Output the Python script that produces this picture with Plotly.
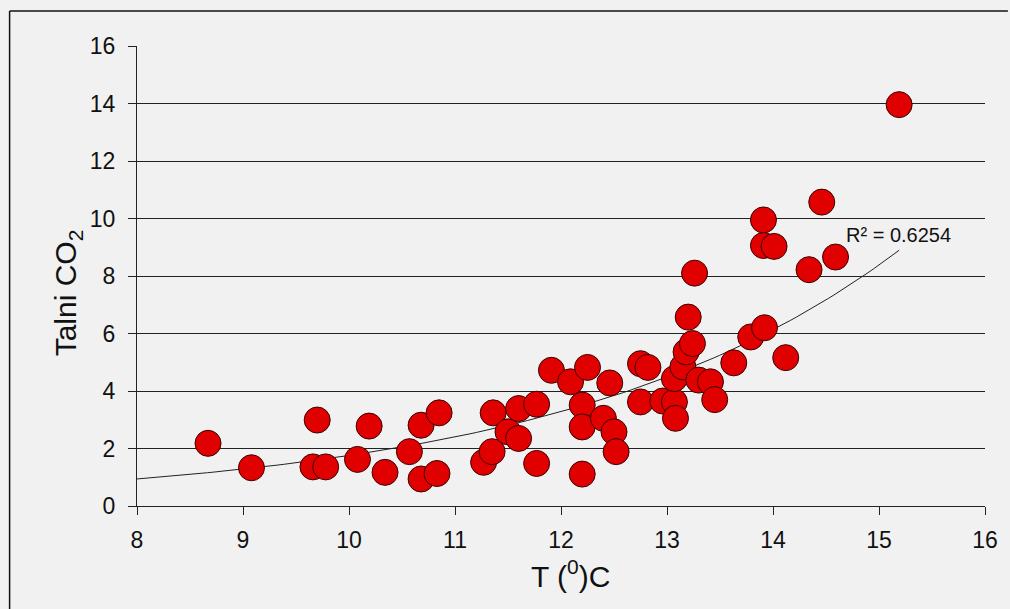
import numpy as np
import plotly.graph_objects as go

temperature = [8.67, 9.08, 9.66, 9.70, 9.78, 10.08, 10.19, 10.34, 10.57, 10.68, 10.68, 10.83, 10.85,
               11.27, 11.35, 11.36, 11.50, 11.60, 11.60, 11.77, 11.77, 11.91, 12.09, 12.20, 12.20,
               12.20, 12.25, 12.40, 12.46, 12.50, 12.52, 12.75, 12.82, 12.75, 12.96, 13.07, 13.08,
               13.07, 13.15, 13.18, 13.24, 13.20, 13.26, 13.30, 13.41, 13.45, 13.63, 13.79, 13.92,
               13.91, 13.91, 14.01, 14.12, 14.34, 14.46, 14.59, 15.19]
co2 = [2.18, 1.33, 1.36, 2.99, 1.36, 1.62, 2.78, 1.17, 1.89, 2.81, 0.94, 1.13, 3.24,
       1.52, 1.89, 3.24, 2.58, 3.39, 2.35, 3.54, 1.48, 4.72, 4.32, 3.51, 2.75,
       1.11, 4.82, 3.05, 4.28, 2.58, 1.89, 4.95, 4.82, 3.62, 3.65, 3.62, 3.05,
       4.43, 4.84, 5.36, 5.65, 6.57, 8.10, 4.38, 4.32, 3.70, 4.98, 5.88, 6.20,
       9.95, 9.06, 9.03, 5.16, 8.22, 10.57, 8.66, 13.96]
x_ticks = [8, 9, 10, 11, 12, 13, 14, 15, 16]
y_ticks = [0, 2, 4, 6, 8, 10, 12, 14, 16]
x_title = "T (<sup>0</sup>)C"
y_title = "Talni CO<sub>2</sub>"
r2_label = "R² = 0.6254"
# exponential trendline y = a*exp(b*x), coefficients
trend_a = 0.0772
trend_b = 0.3125
trend_range = [8, 15.19]

trend_x = np.linspace(trend_range[0], trend_range[1], 120)
trend_y = trend_a * np.exp(trend_b * trend_x)

fig = go.Figure()
fig.add_trace(go.Scatter(x=trend_x, y=trend_y, mode="lines",
                         line=dict(color="#222222", width=1), hoverinfo="skip"))
fig.add_trace(go.Scatter(x=temperature, y=co2, mode="markers",
                         marker=dict(size=26, color="#e00000",
                                     line=dict(color="#3a0000", width=1))))

fig.add_annotation(x=15.18, y=9.44, text=r2_label, showarrow=False,
                   font=dict(size=20, color="#111111", family="Liberation Sans, Arial"))

L, R, T, B = 137, 21, 46, 103
W, H = 1010, 609
pw, ph = W - L - R, H - T - B
px = lambda p: (p - L) / pw
py = lambda p: (H - B - p) / ph

fig.add_annotation(xref="paper", yref="paper", x=px(573), y=py(574), text=x_title,
                   showarrow=False, xanchor="center", yanchor="middle",
                   font=dict(size=30, color="#111111", family="Liberation Sans, Arial"))
fig.add_annotation(xref="paper", yref="paper", x=px(67), y=py(293), text=y_title,
                   showarrow=False, textangle=-90, xanchor="center", yanchor="middle",
                   font=dict(size=30, color="#111111", family="Liberation Sans, Arial"))

fig.add_shape(type="line", xref="paper", yref="paper", x0=px(9), x1=px(9), y0=py(612), y1=py(11),
              line=dict(color="#111111", width=1.5))
fig.add_shape(type="line", xref="paper", yref="paper", x0=px(9), x1=px(1012), y0=py(11), y1=py(11),
              line=dict(color="#111111", width=1.5))

font = dict(family="Liberation Sans, Arial", color="#111111")
fig.update_layout(
    width=W, height=H,
    margin=dict(l=L, r=R, t=T, b=B),
    paper_bgcolor="#f1f1f1", plot_bgcolor="#f1f1f1",
    showlegend=False,
    font=font,
    xaxis=dict(range=[8, 16], tickvals=x_ticks, ticks="outside", ticklen=8, tickcolor="#222222",
               showline=True, linecolor="#222222", linewidth=1, showgrid=False, zeroline=False,
               tickfont=dict(size=23), ticklabelstandoff=5),
    yaxis=dict(range=[0, 16], tickvals=y_ticks, ticks="outside", ticklen=8, tickcolor="#222222",
               showline=True, linecolor="#222222", linewidth=1, showgrid=True, gridcolor="#222222",
               gridwidth=1, zeroline=False, tickfont=dict(size=23), ticklabelstandoff=8),
)
fig.write_html("out.html", config={"displayModeBar": False},
               post_script="document.body.style.margin='0';document.body.style.background='#f1f1f1';")
